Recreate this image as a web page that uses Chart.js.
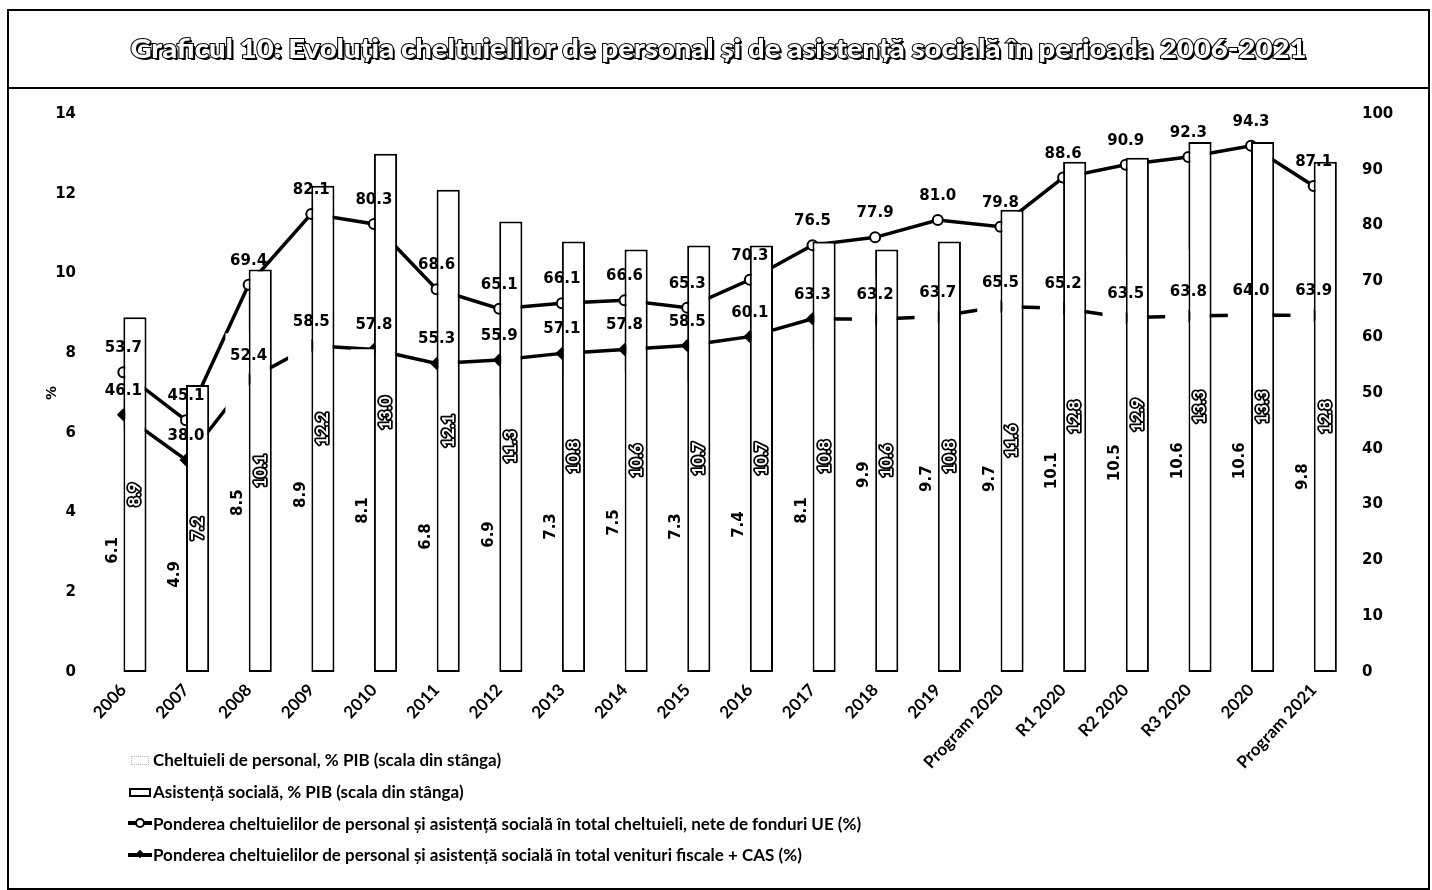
<!DOCTYPE html>
<html>
<head>
<meta charset="utf-8">
<script src="https://cdn.jsdelivr.net/npm/chart.js@4.4.1/dist/chart.umd.min.js"></script>
<style>
  body { margin: 0; background: #fff; width: 1432px; height: 890px; overflow: hidden; }
  #grafic { position: absolute; left: 0; top: 0; }
  #cadru { position: absolute; left: 7px; top: 9px; width: 1419px; height: 877px; border: 2px solid #000; pointer-events: none; }
  #antet { position: absolute; left: 7px; top: 9px; width: 1423px; height: 78px; border-bottom: 2px solid #000; text-align: center; }
  #titlu {
    display: inline-block; margin-top: 22px; white-space: nowrap;
    font: 900 27px Lato, sans-serif; color: #fff;
    -webkit-text-stroke: 2px #000; paint-order: stroke fill;
    text-shadow: 2px 2px 0 #000;
    transform-origin: center center;
  }
  #legenda { position: absolute; left: 128px; top: 744px; font: bold 17px Lato, sans-serif; color: #000; }
  .rand { height: 31.7px; display: flex; align-items: center; white-space: nowrap; }
  .simbol { position: relative; width: 24px; height: 14px; margin-right: 1px; flex: none; }
  .s-pers { position: absolute; left: 3px; top: 3px; width: 16px; height: 7px; border: 1px dotted #bbb; }
  .s-asist { position: absolute; left: 1px; top: 3px; width: 18px; height: 5px; border: 2px solid #000; background: #fff; }
  .s-linie { position: absolute; left: 0; top: 5px; width: 24px; height: 4px; background: #000; }
  .s-cerc { position: absolute; left: 7px; top: 2px; width: 6px; height: 6px; border: 2px solid #000; border-radius: 50%; background: #fff; }
  .s-romb { position: absolute; left: 9px; top: 3px; width: 6px; height: 6px; background: #000; transform: rotate(45deg); }
</style>
</head>
<body>
<canvas id="grafic" width="1432" height="890"></canvas>
<div id="antet"><span id="titlu">Graficul 10: Evoluția cheltuielilor de personal și de asistență socială în perioada 2006-2021</span></div>
<div id="cadru"></div>
<div id="legenda">
  <div class="rand"><span class="simbol"><span class="s-pers"></span></span>Cheltuieli de personal, % PIB (scala din stânga)</div>
  <div class="rand"><span class="simbol"><span class="s-asist"></span></span>Asistență socială, % PIB (scala din stânga)</div>
  <div class="rand"><span class="simbol"><span class="s-linie"></span><span class="s-cerc"></span></span>Ponderea cheltuielilor de personal și asistență socială în total cheltuieli, nete de fonduri UE (%)</div>
  <div class="rand"><span class="simbol"><span class="s-linie"></span><span class="s-romb"></span></span>Ponderea cheltuielilor de personal și asistență socială în total venituri fiscale + CAS (%)</div>
</div>
<script>
// categorii si serii
const categorii = ['2006', '2007', '2008', '2009', '2010', '2011', '2012', '2013', '2014', '2015', '2016', '2017', '2018', '2019',
  'Program 2020', 'R1 2020', 'R2 2020', 'R3 2020', '2020', 'Program 2021'];
const cheltuieliPersonal = [6.1, 4.9, 8.5, 8.9, 8.1, 6.8, 6.9, 7.3, 7.5, 7.3, 7.4, 8.1, 9.9, 9.7, 9.7, 10.1, 10.5, 10.6, 10.6, 9.8];
const asistentaSociala = [8.9, 7.2, 10.1, 12.2, 13.0, 12.1, 11.3, 10.8, 10.6, 10.7, 10.7, 10.8, 10.6, 10.8, 11.6, 12.8, 12.9, 13.3, 13.3, 12.8];
const pondereCheltuieli = [53.7, 45.1, 69.4, 82.1, 80.3, 68.6, 65.1, 66.1, 66.6, 65.3, 70.3, 76.5, 77.9, 81.0, 79.8, 88.6, 90.9, 92.3, 94.3, 87.1];
const pondereVenituri = [46.1, 38.0, 52.4, 58.5, 57.8, 55.3, 55.9, 57.1, 57.8, 58.5, 60.1, 63.3, 63.2, 63.7, 65.5, 65.2, 63.5, 63.8, 64.0, 63.9];

// axe
const ticksStanga = [0, 2, 4, 6, 8, 10, 12, 14];
const ticksDreapta = [0, 10, 20, 30, 40, 50, 60, 70, 80, 90, 100];

// titlul se strange pe latime ca sa incapa in antet
var titlu = document.getElementById('titlu');
var latime = titlu.getBoundingClientRect().width;
titlu.style.transform = 'scaleX(' + (1176 / latime) + ')';

const fontValori = 'bold 15px "DejaVu Sans"';

// etichetele cu valori: verticale pe bare, deasupra punctelor pe linii
const etichete = {
  id: 'etichete',
  afterDatasetsDraw(chart) {
    const ctx = chart.ctx;
    chart.data.datasets.forEach(function (ds, i) {
      const meta = chart.getDatasetMeta(i);
      meta.data.forEach(function (el, j) {
        const text = ds.data[j].toFixed(1);
        ctx.save();
        if (ds.type === 'line') {
          ctx.font = fontValori;
          ctx.textAlign = 'center';
          ctx.textBaseline = 'alphabetic';
          ctx.fillStyle = '#000';
          ctx.fillText(text, el.x, el.y - 20);
        } else {
          ctx.translate(el.x, (el.y + el.base) / 2);
          ctx.rotate(-Math.PI / 2);
          ctx.textAlign = 'center';
          ctx.textBaseline = 'middle';
          if (ds.label.indexOf('Asisten') === 0) {
            ctx.font = 'bold 17px Lato';
            ctx.lineWidth = 3.5;
            ctx.strokeStyle = '#000';
            ctx.lineJoin = 'round';
            ctx.strokeText(text, 0, 0);
            ctx.fillStyle = '#fff';
            ctx.fillText(text, 0, 0);
          } else {
            ctx.font = fontValori;
            ctx.fillStyle = '#000';
            ctx.fillText(text, 0, 1);
          }
        }
        ctx.restore();
      });
    });
  }
};

const data = {
  labels: categorii,
  datasets: [
    {
      type: 'line',
      label: 'Ponderea cheltuielilor de personal și asistență socială în total cheltuieli, nete de fonduri UE (%)',
      data: pondereCheltuieli,
      yAxisID: 'y1',
      borderColor: '#000',
      borderWidth: 3.5,
      pointStyle: 'circle',
      pointRadius: 5,
      pointBorderWidth: 2,
      pointBackgroundColor: '#fff',
      pointBorderColor: '#000',
      order: 1
    },
    {
      type: 'line',
      label: 'Ponderea cheltuielilor de personal și asistență socială în total venituri fiscale + CAS (%)',
      data: pondereVenituri,
      yAxisID: 'y1',
      borderColor: '#000',
      borderWidth: 3.5,
      pointStyle: 'rectRot',
      pointRadius: 4,
      pointBackgroundColor: '#000',
      pointBorderColor: '#000',
      order: 1
    },
    {
      type: 'bar',
      label: 'Cheltuieli de personal, % PIB (scala din stânga)',
      data: cheltuieliPersonal,
      yAxisID: 'y',
      backgroundColor: '#fff',
      borderWidth: 0,
      categoryPercentage: 0.74,
      barPercentage: 1.0,
      order: 0
    },
    {
      type: 'bar',
      label: 'Asistență socială, % PIB (scala din stânga)',
      data: asistentaSociala,
      yAxisID: 'y',
      backgroundColor: '#fff',
      borderColor: '#000',
      borderWidth: 2,
      borderSkipped: false,
      categoryPercentage: 0.74,
      barPercentage: 1.0,
      order: 0
    }
  ]
};

const config = {
  type: 'bar',
  data: data,
  options: {
    responsive: false,
    animation: false,
    events: [],
    layout: { padding: { top: 114, left: 0, right: 0, bottom: 0 } },
    plugins: {
      legend: { display: false },
      tooltip: { enabled: false }
    },
    scales: {
      x: {
        grid: { display: false, drawTicks: false },
        border: { display: false },
        ticks: {
          color: '#000',
          font: { family: 'Lato', size: 17, weight: 'bold' },
          minRotation: 47,
          maxRotation: 47,
          padding: 8
        },
        afterFit: function (s) { s.height = 218; }
      },
      y: {
        position: 'left',
        min: 0,
        max: 14,
        grid: { display: false, drawTicks: false },
        border: { display: false },
        afterBuildTicks: function (s) { s.ticks = ticksStanga.map(function (v) { return { value: v }; }); },
        ticks: {
          color: '#000',
          font: { family: 'DejaVu Sans', size: 15, weight: 'bold' },
          padding: 16
        },
        title: {
          display: true,
          text: '%',
          color: '#000',
          font: { family: 'DejaVu Sans', size: 14, weight: 'bold' },
          padding: { top: 44, bottom: 0 }
        },
        afterFit: function (s) { s.width = 92; }
      },
      y1: {
        position: 'right',
        min: 0,
        max: 100,
        grid: { display: false, drawTicks: false },
        border: { display: false },
        afterBuildTicks: function (s) { s.ticks = ticksDreapta.map(function (v) { return { value: v }; }); },
        ticks: {
          color: '#000',
          font: { family: 'DejaVu Sans', size: 15, weight: 'bold' },
          padding: 17
        },
        afterFit: function (s) { s.width = 87; }
      }
    }
  },
  plugins: [etichete]
};

const grafic = new Chart(document.getElementById('grafic'), config);
</script>
</body>
</html>
